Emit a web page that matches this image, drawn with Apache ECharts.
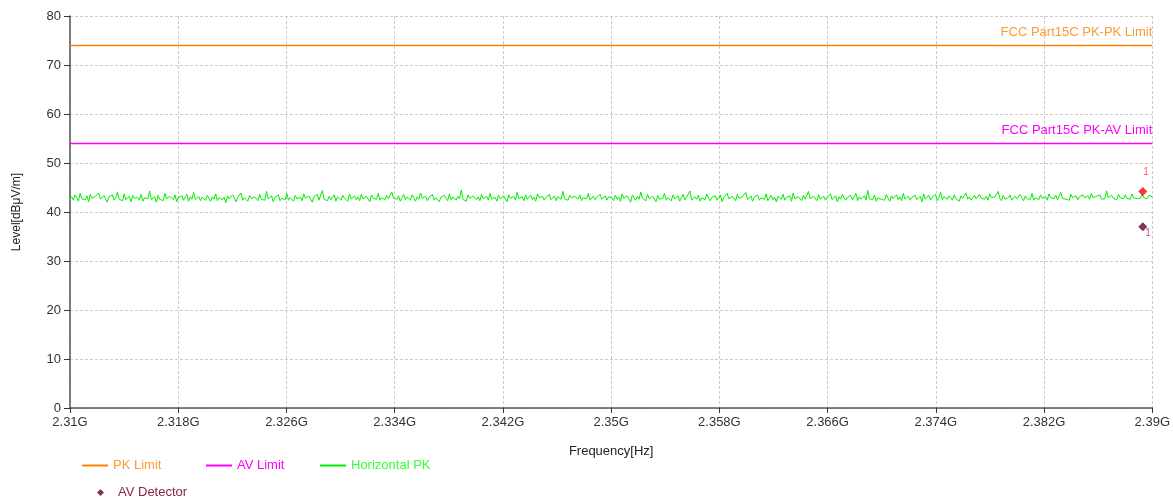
<!DOCTYPE html>
<html><head><meta charset="utf-8">
<script src="https://cdn.jsdelivr.net/npm/echarts@6/dist/echarts.min.js"></script>
<style>html,body{margin:0;padding:0;background:#fff}#c{width:1173px;height:499px}</style>
</head><body><div id="c"></div>
<script>
// Sweep definition (GHz)
const sweepStartGHz = 2.31;
const sweepStopGHz = 2.39;
const xTickLabels = ['2.31G','2.318G','2.326G','2.334G','2.342G','2.35G','2.358G','2.366G','2.374G','2.382G','2.39G'];
const yTicks = [0,10,20,30,40,50,60,70,80];
// Limits (dBuV/m)
const pkLimit = 74;
const avLimit = 54;
const pkLimitLabel = 'FCC Part15C PK-PK Limit';
const avLimitLabel = 'FCC Part15C PK-AV Limit';
// Detector markers [freq GHz, level]
const pkDetector = [[2.3893, 44.2]];
const avDetector = [[2.3893, 37.0]];
// Horizontal PK trace levels
const horizontalPK = [
42.6,43.1,42.4,43.5,42.9,42.2,43.8,42.7,43.0,42.5,43.3,42.1,43.6,42.8,42.4,43.2,42.9,43.9,42.6,42.3,
43.4,42.7,42.0,43.1,42.8,43.5,42.4,42.9,44.1,42.6,43.0,42.3,43.7,42.5,42.9,43.2,42.1,43.4,42.8,42.6,
43.0,42.4,43.6,42.2,42.9,43.3,42.7,44.3,42.5,42.8,43.1,42.0,43.4,42.6,43.0,42.3,43.8,42.7,42.4,43.2,
42.9,42.5,43.5,42.1,43.0,42.7,43.3,42.4,42.8,43.6,42.2,43.1,42.6,44.0,42.5,42.9,43.2,42.3,43.0,42.7,
42.4,43.4,42.8,42.2,43.1,42.6,43.7,42.3,42.9,43.2,42.5,43.0,41.9,43.3,42.7,42.4,43.5,42.8,42.1,43.0,
42.6,43.9,42.4,42.9,43.2,42.2,43.4,42.7,42.5,43.1,42.8,42.3,43.6,42.6,43.0,42.4,44.2,42.7,42.9,43.3,
42.1,43.0,42.6,43.5,42.3,42.8,43.2,42.5,43.8,42.4,42.9,43.1,42.2,43.4,42.7,42.6,43.0,42.3,43.7,42.8,
42.5,43.3,42.9,42.0,43.1,42.7,43.6,42.4,42.8,44.4,42.6,43.0,42.3,43.2,42.5,42.9,43.5,42.2,43.1,42.7,
42.4,43.4,42.8,43.0,42.2,43.7,42.6,42.9,43.3,42.5,43.1,42.3,43.6,42.7,42.4,43.2,42.9,42.1,43.5,42.8,
43.0,42.6,43.8,42.4,42.9,43.2,42.5,43.4,42.7,42.3,44.1,42.8,43.0,42.6,43.3,42.2,42.9,43.6,42.5,43.1,
42.7,42.4,43.5,42.9,42.2,43.1,42.6,43.9,42.8,42.5,43.2,42.3,43.0,42.7,43.6,42.4,42.9,43.3,42.1,43.0,
42.6,43.4,42.8,42.3,43.7,42.5,43.1,42.9,42.4,43.2,42.7,44.5,42.6,43.0,42.2,43.5,42.8,42.4,43.3,42.9,
42.5,43.1,42.3,43.6,42.7,42.9,43.2,42.4,43.8,42.6,42.8,43.0,42.2,43.4,42.7,42.5,43.3,42.9,42.1,43.5,
42.8,42.6,43.2,42.4,44.0,42.7,42.9,43.1,42.3,43.5,42.6,42.8,43.4,42.5,43.0,42.2,43.7,42.9,42.6,43.2,
42.4,43.0,42.7,43.6,42.5,42.9,43.3,42.3,43.1,42.8,42.6,44.2,42.7,43.0,42.4,43.4,42.9,42.5,43.2,42.8,
42.6,43.5,42.3,42.9,43.1,42.7,43.8,42.4,42.8,43.2,42.5,43.0,42.9,43.6,42.6,42.8,43.3,42.4,43.1,43.0,
42.9,42.3,43.4,42.6,43.1,42.2,43.7,42.8,42.5,43.3,42.7,42.0,43.5,42.9,42.4,43.2,42.6,44.1,42.8,43.0,
42.3,43.6,42.7,42.5,43.2,42.9,42.1,43.4,42.6,43.0,42.8,43.8,42.4,42.9,43.1,42.3,43.5,42.7,42.6,43.3,
42.2,42.9,43.6,42.5,43.0,42.7,44.3,42.4,42.8,43.1,42.6,43.4,42.2,42.9,43.2,42.5,43.7,42.8,42.3,43.0,
42.7,43.3,42.4,42.9,43.5,42.1,43.0,42.6,43.8,42.7,42.5,43.2,42.9,42.3,43.6,42.8,42.4,43.1,42.7,44.0,
42.5,42.8,43.3,42.2,43.0,42.7,43.5,42.4,42.9,43.1,42.6,43.7,42.3,42.8,43.4,42.5,43.0,42.1,43.2,42.9,
42.6,43.6,42.4,43.0,42.8,43.3,42.2,43.9,42.7,42.5,43.1,42.9,42.3,43.4,42.6,43.0,44.2,42.7,42.4,43.2,
42.8,42.3,43.5,42.6,42.9,43.2,42.4,43.0,42.7,43.7,42.5,42.8,43.3,42.1,43.1,42.6,43.6,42.9,42.4,43.0,
42.7,43.4,42.5,42.9,43.8,42.3,43.1,42.6,42.8,43.3,42.4,44.4,42.7,43.0,42.5,43.5,42.2,42.9,43.2,42.6,
43.0,42.4,43.6,42.8,42.2,43.3,42.7,42.9,43.5,42.5,43.1,42.3,43.8,42.6,42.9,43.2,42.4,43.0,42.7,43.4,
42.5,42.9,43.2,42.1,43.7,42.6,42.8,43.4,42.4,43.0,42.7,43.6,42.3,42.9,44.1,42.5,43.1,42.8,42.6,43.3,
42.9,42.4,43.5,42.7,43.0,42.2,43.3,42.8,42.5,43.9,42.6,43.1,42.4,42.9,43.4,42.7,42.3,43.6,42.8,43.0,
42.6,43.2,42.4,43.7,42.9,42.5,43.1,42.7,44.2,42.8,42.3,43.4,42.6,43.0,42.9,43.5,42.4,42.8,43.2,42.7,
42.5,43.6,42.9,42.3,43.3,42.7,43.0,42.6,43.8,42.4,42.9,43.2,42.5,43.5,42.8,42.6,43.1,42.4,43.7,42.9,
43.1,42.7,43.4,42.5,42.9,44.0,42.8,43.2,42.6,43.0,42.4,43.6,42.9,42.7,43.3,42.5,43.1,42.8,43.5,42.9,
42.7,43.3,42.6,43.8,42.9,42.5,43.2,42.8,43.5,42.6,43.0,42.7,44.3,42.9,42.6,43.4,42.8,43.1,42.5,43.6,
42.9,43.2,42.7,43.5,42.8,43.0,42.6,43.7,42.9,43.3,42.7,43.1,42.8,43.6,42.9,43.2,42.7,43.4,43.0,43.1
];

// axis works in MHz offset from sweep start, so ticks fall on multiples of 8
const toX = f => (f - sweepStartGHz) * 1000;
const span = toX(sweepStopGHz);
const step = span / (horizontalPK.length - 1);
const pkData = horizontalPK.map((v, i) => [i * step, v]);

const C_PK = '#FF8000', C_AV = '#FF00FF', C_G = '#00EE00', C_RED = '#FF0000', C_MAR = '#660033';
const font = 'Liberation Sans, Arial, sans-serif';
const FS = 13;

function limitSeries(name, value, color, labelColor, labelText) {
  return { name, type: 'line', showSymbol: true, symbol: 'circle', symbolSize: 0, z: 3,
    lineStyle: { color, width: 1.5 }, itemStyle: { color },
    label: { show: false },
    data: [[0, value], { value: [span, value], label: { show: true, position: 'top', align: 'right', distance: 6,
      color: labelColor, fontSize: FS, fontFamily: font, formatter: labelText } }] };
}
const legendBase = { top: 454, itemWidth: 26, itemHeight: 2, icon: 'rect', textStyle: { fontSize: FS, fontFamily: font } };

const chart = echarts.init(document.getElementById('c'));
chart.setOption({
  animation: false,
  textStyle: { fontFamily: font },
  grid: { left: 70, right: 20, top: 16, bottom: 91 },
  xAxis: {
    type: 'value', min: 0, max: span, interval: 8,
    name: 'Frequency[Hz]', nameLocation: 'middle', nameGap: 37,
    nameTextStyle: { color: '#222', fontSize: FS, fontFamily: font },
    axisLine: { lineStyle: { color: '#555', width: 1.5 } },
    axisTick: { show: true, length: 5, lineStyle: { color: '#333' } },
    axisLabel: { color: '#333', fontSize: FS, margin: 8, fontFamily: font,
      formatter: v => xTickLabels[Math.round(v / 8)] },
    splitLine: { show: true, lineStyle: { color: '#cccccc', type: [3, 2], width: 1 } }
  },
  yAxis: {
    type: 'value', min: yTicks[0], max: yTicks[yTicks.length - 1], interval: 10,
    name: 'Level[dBμV/m]', nameLocation: 'middle', nameGap: 47, nameRotate: 90,
    nameTextStyle: { color: '#222', fontSize: 12, fontFamily: font },
    axisLine: { show: true, lineStyle: { color: '#555', width: 1.5 } },
    axisTick: { show: true, length: 6, lineStyle: { color: '#333' } },
    axisLabel: { color: '#333', fontSize: FS, margin: 9, fontFamily: font },
    splitLine: { show: true, lineStyle: { color: '#cccccc', type: [3, 2], width: 1 } }
  },
  legend: [
    Object.assign({ left: 77, data: [{ name: 'PK Limit', textStyle: { color: '#FF9933' } }] }, legendBase),
    Object.assign({ left: 201, data: [{ name: 'AV Limit', textStyle: { color: C_AV } }] }, legendBase),
    Object.assign({ left: 315, data: [{ name: 'Horizontal PK', textStyle: { color: '#33FF33' } }] }, legendBase),
    { left: 92, top: 481, itemWidth: 7, itemHeight: 7, icon: 'diamond',
      textStyle: { fontSize: FS, fontFamily: font, padding: [0, 0, 0, 9] },
      data: [ { name: 'AV Detector', textStyle: { color: '#8B2252' } } ] }
  ],
  series: [
    limitSeries('PK Limit', pkLimit, C_PK, '#FF9933', pkLimitLabel),
    limitSeries('AV Limit', avLimit, C_AV, C_AV, avLimitLabel),
    { name: 'Horizontal PK', type: 'line', showSymbol: false, symbol: 'none', z: 2,
      lineStyle: { color: C_G, width: 1 }, itemStyle: { color: C_G }, data: pkData },
    { name: 'PK Detector', type: 'scatter', symbol: 'diamond', symbolSize: 9, z: 5,
      itemStyle: { color: C_RED },
      label: { show: true, position: [5, -20], formatter: '1', color: '#FF3333', fontSize: 10 },
      data: pkDetector.map(d => [toX(d[0]), d[1]]) },
    { name: 'AV Detector', type: 'scatter', symbol: 'diamond', symbolSize: 9, z: 5,
      itemStyle: { color: C_MAR },
      label: { show: true, position: [7, 6], formatter: '1', color: '#993366', fontSize: 10 },
      data: avDetector.map(d => [toX(d[0]), d[1]]) }
  ]
});
</script></body></html>
